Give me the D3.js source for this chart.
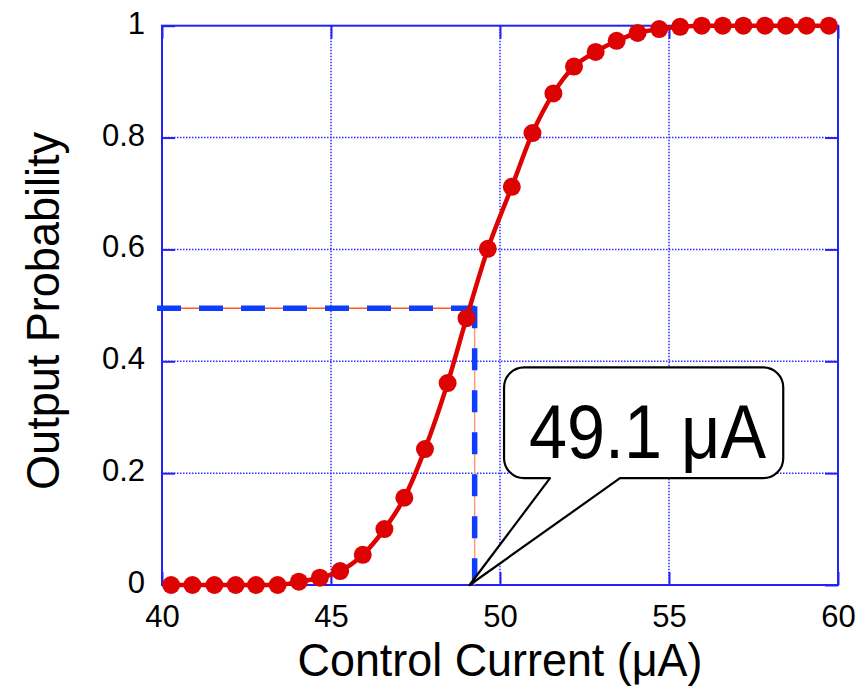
<!DOCTYPE html>
<html>
<head>
<meta charset="utf-8">
<script src="https://cdn.jsdelivr.net/npm/d3@7"></script>
<style>
  body { margin: 0; background: #fff; }
  text { font-family: "Liberation Sans", Arial, sans-serif; }
</style>
</head>
<body>
<div id="chart"></div>
<script>
// measured control currents (uA) and output probabilities
var currents = [40.27, 40.90, 41.55, 42.18, 42.78, 43.42, 44.05, 44.67, 45.27, 45.94,
  46.58, 47.17, 47.78, 48.45, 49.01, 49.64, 50.35, 50.96, 51.58, 52.19,
  52.83, 53.45, 54.07, 54.71, 55.33, 55.97, 56.59, 57.20, 57.84, 58.46, 59.07, 59.73];
var probs = [0, 0, 0, 0, 0, 0, 0.006, 0.013, 0.025, 0.054,
  0.100, 0.156, 0.243, 0.361, 0.477, 0.601, 0.712, 0.808, 0.879, 0.927,
  0.953, 0.973, 0.987, 0.994, 0.998, 1, 1, 1, 1, 1, 1, 1];

var xTicks = [40, 45, 50, 55, 60];
var yTicks = [0, 0.2, 0.4, 0.6, 0.8, 1];
var yTickLabels = ['0', '0.2', '0.4', '0.6', '0.8', '1'];

// 50% threshold marker and callout
var halfX = 49.25, halfY = 0.495;
var calloutLabel = '49.1 \u03bcA';
var calloutTip = [49.1, 0];
var calloutBox = { x0: 50.12, x1: 58.38, y0: 0.191, y1: 0.389 };
var calloutBase = [51.48, 53.55];

var width = 868, height = 688;
var margin = { top: 25.7, right: 30, bottom: 103, left: 162 };
var w = width - margin.left - margin.right,
    h = height - margin.top - margin.bottom;

var data = currents.map(function(c, i) { return { x: c, y: probs[i] }; });

var x = d3.scaleLinear().domain([40, 60]).range([0, w]);
var y = d3.scaleLinear().domain([0, 1]).range([h, 0]);

var svg = d3.select('#chart').append('svg')
  .attr('width', width).attr('height', height);
var g = svg.append('g')
  .attr('transform', 'translate(' + margin.left + ',' + margin.top + ')');

// dotted grid
var gridColor = '#2e2eff';
g.append('g').selectAll('line').data(xTicks.slice(1, -1)).join('line')
  .attr('x1', d => x(d)).attr('x2', d => x(d))
  .attr('y1', 0).attr('y2', h)
  .attr('stroke', gridColor).attr('stroke-width', 1.5)
  .attr('stroke-dasharray', '1.5,1.5');
g.append('g').selectAll('line').data(yTicks.slice(1, -1)).join('line')
  .attr('y1', d => y(d)).attr('y2', d => y(d))
  .attr('x1', 0).attr('x2', w)
  .attr('stroke', gridColor).attr('stroke-width', 1.5)
  .attr('stroke-dasharray', '1.5,1.5');

// axes with inward ticks on all sides
var axisColor = '#2222f2';
function styleAxis(sel) {
  sel.select('.domain').remove();
  sel.selectAll('.tick line').attr('stroke', axisColor).attr('stroke-width', 2);
  sel.selectAll('.tick text').attr('fill', '#000').style('font-size', '31px');
}
g.append('g').attr('transform', 'translate(0,' + h + ')')
  .call(d3.axisBottom(x).tickValues(xTicks).tickSize(-13).tickPadding(20).tickFormat(d3.format('d')))
  .call(styleAxis);
g.append('g')
  .call(d3.axisTop(x).tickValues(xTicks).tickSize(-13).tickFormat(''))
  .call(styleAxis);
g.append('g')
  .call(d3.axisLeft(y).tickValues(yTicks).tickSize(-13).tickPadding(17)
    .tickFormat(function(d, i) { return yTickLabels[i]; }))
  .call(styleAxis)
  .selectAll('.tick text').attr('dy', '0.24em');
g.append('g').attr('transform', 'translate(' + w + ',0)')
  .call(d3.axisRight(y).tickValues(yTicks).tickSize(-13).tickFormat(''))
  .call(styleAxis);

g.append('rect').attr('width', w).attr('height', h)
  .attr('fill', 'none').attr('stroke', axisColor).attr('stroke-width', 2);

// 50% threshold: thin orange guide under thick blue dashes
g.append('line')
  .attr('x1', x(40)).attr('x2', x(halfX)).attr('y1', y(halfY)).attr('y2', y(halfY))
  .attr('stroke', '#ff5a1f').attr('stroke-width', 1.5);
g.append('line')
  .attr('x1', x(halfX)).attr('x2', x(halfX)).attr('y1', y(halfY)).attr('y2', y(0))
  .attr('stroke', '#ff9c78').attr('stroke-width', 1.5);
g.append('line')
  .attr('x1', x(40) - 5).attr('x2', x(halfX) + 3).attr('y1', y(halfY)).attr('y2', y(halfY))
  .attr('stroke', '#0d3dff').attr('stroke-width', 5.5).attr('stroke-dasharray', '24,18');
g.append('line')
  .attr('x1', x(halfX)).attr('x2', x(halfX)).attr('y1', y(halfY) - 2).attr('y2', y(0))
  .attr('stroke', '#0d3dff').attr('stroke-width', 5.5).attr('stroke-dasharray', '22,20');

// curve and markers
var red = '#dd0303';
var line = d3.line().x(d => x(d.x)).y(d => y(d.y)).curve(d3.curveMonotoneX);
g.append('path').datum(data).attr('d', line)
  .attr('fill', 'none').attr('stroke', red).attr('stroke-width', 4.5);
g.append('g').selectAll('circle').data(data).join('circle')
  .attr('cx', d => x(d.x)).attr('cy', d => y(d.y)).attr('r', 9)
  .attr('fill', red);

// callout bubble
var bx0 = x(calloutBox.x0), bx1 = x(calloutBox.x1),
    by0 = y(calloutBox.y1), by1 = y(calloutBox.y0), r = 20;
var p = d3.path();
p.moveTo(bx0 + r, by0);
p.lineTo(bx1 - r, by0);
p.arcTo(bx1, by0, bx1, by0 + r, r);
p.lineTo(bx1, by1 - r);
p.arcTo(bx1, by1, bx1 - r, by1, r);
p.lineTo(x(calloutBase[1]), by1);
p.lineTo(x(calloutTip[0]), y(calloutTip[1]));
p.lineTo(x(calloutBase[0]), by1);
p.lineTo(bx0 + r, by1);
p.arcTo(bx0, by1, bx0, by1 - r, r);
p.lineTo(bx0, by0 + r);
p.arcTo(bx0, by0, bx0 + r, by0, r);
p.closePath();
g.append('path').attr('d', p.toString())
  .attr('fill', '#fff').attr('stroke', '#000').attr('stroke-width', 2.2)
  .attr('stroke-linejoin', 'round');

g.append('text')
  .attr('x', bx0 + 25).attr('y', by1 - 20)
  .attr('textLength', 237).attr('lengthAdjust', 'spacingAndGlyphs')
  .style('font-size', '76px').attr('fill', '#000')
  .text(calloutLabel);

// axis titles
svg.append('text')
  .attr('x', margin.left + x(50)).attr('y', 676)
  .attr('text-anchor', 'middle')
  .attr('textLength', 405).attr('lengthAdjust', 'spacingAndGlyphs')
  .style('font-size', '46px').attr('fill', '#000')
  .text('Control Current (\u03bcA)');
svg.append('text')
  .attr('transform', 'translate(59,' + (margin.top + y(0.49)) + ') rotate(-90)')
  .attr('text-anchor', 'middle')
  .attr('textLength', 358).attr('lengthAdjust', 'spacingAndGlyphs')
  .style('font-size', '46px').attr('fill', '#000')
  .text('Output Probability');
</script>
</body>
</html>
